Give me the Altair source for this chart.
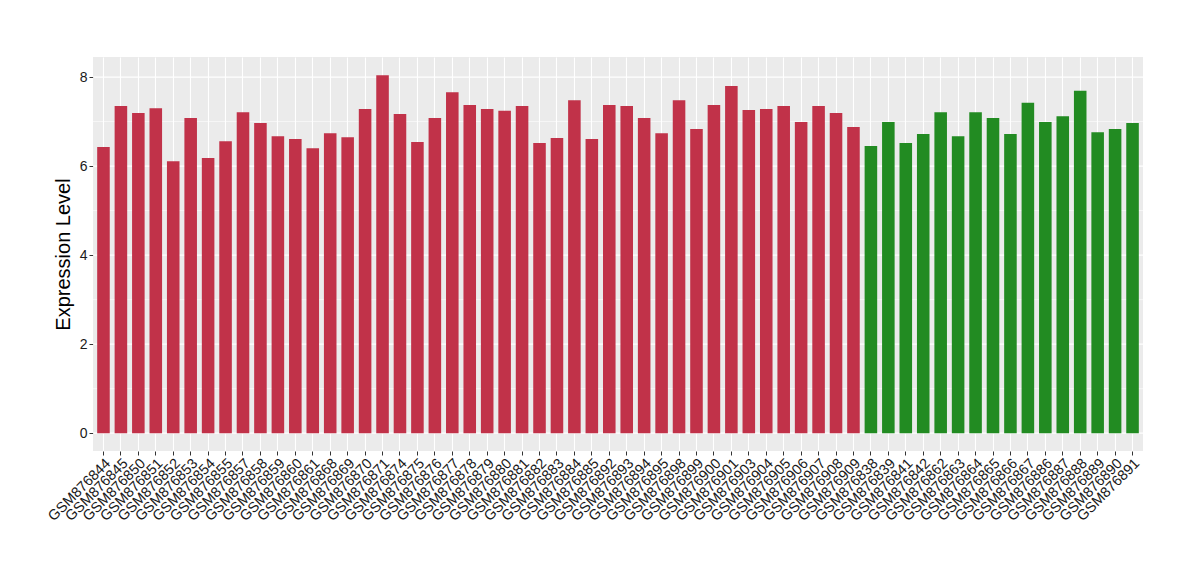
import altair as alt
import pandas as pd

red_samples = ["GSM876844", "GSM876845", "GSM876850", "GSM876851", "GSM876852", "GSM876853",
               "GSM876854", "GSM876855", "GSM876857", "GSM876858", "GSM876859", "GSM876860",
               "GSM876861", "GSM876868", "GSM876869", "GSM876870", "GSM876871", "GSM876874",
               "GSM876875", "GSM876876", "GSM876877", "GSM876878", "GSM876879", "GSM876880",
               "GSM876881", "GSM876882", "GSM876883", "GSM876884", "GSM876885", "GSM876892",
               "GSM876893", "GSM876894", "GSM876895", "GSM876898", "GSM876899", "GSM876900",
               "GSM876901", "GSM876903", "GSM876904", "GSM876905", "GSM876906", "GSM876907",
               "GSM876908", "GSM876909"]
red_values = [6.43, 7.35, 7.19, 7.30, 6.11, 7.08, 6.18, 6.56, 7.21, 6.97, 6.67, 6.61,
              6.40, 6.74, 6.65, 7.28, 8.04, 7.17, 6.54, 7.08, 7.66, 7.37, 7.28, 7.24,
              7.35, 6.52, 6.63, 7.48, 6.61, 7.37, 7.35, 7.08, 6.74, 7.48, 6.83, 7.37,
              7.80, 7.26, 7.28, 7.35, 6.99, 7.35, 7.19, 6.88]

green_samples = ["GSM876838", "GSM876839", "GSM876841", "GSM876842", "GSM876862", "GSM876863",
                 "GSM876864", "GSM876865", "GSM876866", "GSM876867", "GSM876886", "GSM876887",
                 "GSM876888", "GSM876889", "GSM876890", "GSM876891"]
green_values = [6.45, 6.99, 6.52, 6.72, 7.21, 6.67, 7.21, 7.08, 6.72, 7.42, 6.99, 7.12,
                7.69, 6.76, 6.83, 6.97]

y_ticks = [0, 2, 4, 6, 8]

samples = red_samples + green_samples
df = pd.DataFrame({
    "sample": samples,
    "value": red_values + green_values,
    "group": ["A"] * len(red_samples) + ["B"] * len(green_samples),
})

font = "Liberation Sans"

chart = alt.Chart(df).mark_bar().encode(
    x=alt.X("sample:N", sort=samples,
            scale=alt.Scale(paddingInner=0.28, paddingOuter=0.24),
            axis=alt.Axis(title=None, labelAngle=-45, labelAlign="right", labelBaseline="top",
                          labelFontSize=14.5, labelColor="#1a1a1a", labelFont=font,
                          tickColor="#333333", tickSize=4, domain=False, labelPadding=1,
                          grid=True, gridColor="white", gridWidth=1.1, labelOverlap=False)),
    y=alt.Y("value:Q",
            scale=alt.Scale(domain=[-0.4, 8.45], nice=False, zero=False),
            axis=alt.Axis(title="Expression Level", values=y_ticks, format="d",
                          titleFontSize=20, titleFontWeight="normal", titleFont=font,
                          titleColor="black", titlePadding=6,
                          labelFontSize=14, labelColor="#1a1a1a", labelFont=font,
                          tickColor="#333333", tickSize=4, domain=False,
                          grid=False)),
    color=alt.Color("group:N", scale=alt.Scale(domain=["A", "B"], range=["#C13249", "#228B22"]),
                    legend=None),
)

minor = alt.Chart(pd.DataFrame({"v": [1, 3, 5, 7]})).mark_rule(color="white", strokeWidth=0.6).encode(
    y=alt.Y("v:Q")
)
major = alt.Chart(pd.DataFrame({"v": y_ticks})).mark_rule(color="white", strokeWidth=1.2).encode(
    y=alt.Y("v:Q")
)

final = alt.layer(minor, major, chart).properties(
    width=1050, height=394,
    autosize=alt.AutoSizeParams(type="none"),
    padding={"left": 85, "top": 49, "right": 40, "bottom": 110},
).configure_view(fill="#EBEBEB", stroke=None)

final.save("out.html", embed_options={"renderer": "svg", "actions": False})
